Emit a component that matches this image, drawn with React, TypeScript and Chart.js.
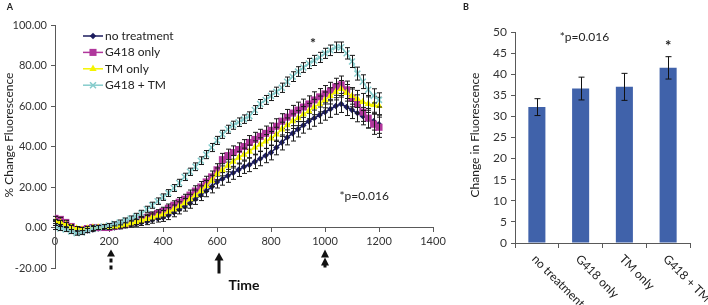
import React, { useEffect, useRef } from "react";
import { Chart, registerables } from "chart.js";

Chart.register(...registerables);

const FONT = "Lato, 'Open Sans', sans-serif";
Chart.defaults.font.family = FONT;

// ---------- Panel A data ----------
const times = [
  0, 20, 40, 60, 80, 100, 120, 140, 160, 180,
  200, 220, 240, 260, 280, 300, 320, 340, 360, 380,
  400, 420, 440, 460, 480, 500, 520, 540, 560, 580,
  600, 620, 640, 660, 680, 700, 720, 740, 760, 780,
  800, 820, 840, 860, 880, 900, 920, 940, 960, 980,
  1000, 1020, 1040, 1060, 1080, 1100, 1120, 1140, 1160, 1180,
  1200,
];

const noTreatment = [
  2, 1.5, 0.5, -1, -2, -2, -1.5, -1, -0.5, 0,
  0, 0, 0.5, 1, 1.5, 2, 2.5, 3, 3.8, 4.5,
  5, 6, 7.5, 9, 10.5, 12, 14, 16, 18, 20,
  22.5, 24, 25.5, 27, 28.5, 30, 31, 32.5, 34, 35.5,
  37, 39.5, 42, 44.5, 46.5, 48.5, 50.5, 52.5, 54, 55.5,
  57, 58.5, 60, 61, 59.5, 58, 56.5, 55, 53.5, 52.5,
  51,
];
const noTreatmentErr = [
  1, 1, 1, 1, 1, 1, 1, 1, 1, 1,
  1, 1, 1.2, 1.2, 1.3, 1.4, 1.5, 1.6, 1.7, 1.8,
  2, 2.1, 2.2, 2.3, 2.4, 2.5, 2.6, 2.7, 2.8, 2.9,
  3, 3.1, 3.2, 3.2, 3.3, 3.3, 3.4, 3.4, 3.5, 3.5,
  3.6, 3.6, 3.7, 3.7, 3.8, 3.8, 3.9, 3.9, 4, 4,
  4, 4.1, 4.1, 4.2, 4.2, 4.2, 4.3, 4.3, 4.4, 4.4,
  4.5,
];

const g418Only = [
  4.5, 4, 2.5, 0.5, -1, -1, -0.5, 0, 0, 0,
  0, 0.5, 1, 1.5, 2.5, 3, 4, 5, 6, 7,
  8, 9.5, 11, 12.5, 14, 16, 18, 20, 22.5, 25,
  28.5, 33.5, 35.5, 37, 38.5, 40, 42, 43.5, 45, 46.5,
  48, 50, 52.5, 54.5, 56.5, 58, 59.5, 61, 63, 64.5,
  66, 67.5, 69.5, 70.5, 68, 64, 61, 57, 54, 51,
  49.5,
];
const g418OnlyErr = [
  1, 1, 1, 1, 1, 1, 1, 1, 1, 1,
  1, 1, 1.2, 1.2, 1.3, 1.4, 1.5, 1.6, 1.7, 1.8,
  2, 2.1, 2.2, 2.3, 2.4, 2.5, 2.6, 2.7, 2.8, 2.9,
  3, 3.1, 3.2, 3.3, 3.3, 3.4, 3.4, 3.5, 3.5, 3.6,
  3.6, 3.7, 3.7, 3.8, 3.8, 3.9, 3.9, 4, 4, 4.1,
  4.1, 4.2, 4.2, 4.3, 4.3, 4.4, 4.5, 4.6, 4.8, 5,
  5,
];

const tmOnly = [
  3, 2.5, 1.5, 0, -0.5, -1, -0.5, 0, 0, 0,
  0, 0.3, 0.8, 1.3, 2, 2.8, 3.5, 4.3, 5, 5.8,
  6.5, 7.8, 9, 10.5, 12, 14, 16, 18, 20.5, 23,
  26.5, 28.5, 30.5, 32.5, 34.5, 36, 37.5, 39.5, 41, 42.5,
  44, 46, 48.5, 50.5, 52.5, 54, 56, 57.5, 59.5, 61,
  63, 65, 67, 68.5, 66.5, 65, 63.5, 62, 61, 60.5,
  60,
];
const tmOnlyErr = [
  1, 1, 1, 1, 1, 1, 1, 1, 1, 1,
  1, 1, 1.1, 1.2, 1.3, 1.4, 1.5, 1.6, 1.7, 1.8,
  1.9, 2, 2.1, 2.2, 2.3, 2.4, 2.5, 2.6, 2.7, 2.8,
  2.9, 3, 3, 3.1, 3.1, 3.2, 3.2, 3.3, 3.3, 3.4,
  3.4, 3.5, 3.5, 3.6, 3.6, 3.7, 3.7, 3.8, 3.8, 3.9,
  3.9, 4, 4, 4.1, 4.1, 4.1, 4.2, 4.2, 4.2, 4.3,
  4.3,
];

const g418PlusTm = [
  0, -0.5, -1, -2, -2.8, -2.5, -1.5, -0.5, 0, 0.5,
  1, 1.8, 2.5, 3.5, 4.5, 5.5, 7, 9, 11, 13,
  15, 17, 19.5, 22, 25, 27.5, 30, 33, 36, 39.5,
  43, 46, 48.5, 50.5, 52, 53.5, 55, 58, 61, 63,
  65, 67, 69, 72, 74.5, 77, 79, 81, 82.5, 84,
  86, 87.5, 89, 89, 86, 82, 76, 72, 68, 65,
  63,
];
const g418PlusTmErr = [
  1, 1, 1, 1, 1, 1, 1, 1, 1, 1,
  1, 1, 1.2, 1.2, 1.2, 1.5, 1.5, 1.5, 1.5, 1.6,
  1.6, 1.7, 1.7, 1.8, 1.8, 1.8, 1.9, 1.9, 2, 2,
  2, 2, 2, 2, 2.1, 2.1, 2.1, 2.2, 2.2, 2.2,
  2.3, 2.3, 2.3, 2.3, 2.4, 2.4, 2.4, 2.5, 2.5, 2.5,
  2.5, 2.6, 2.6, 2.6, 2.8, 3, 3.2, 3.4, 3.5, 3.5,
  3.5,
];

const seriesNames = ["no treatment", "G418 only", "TM only", "G418 + TM"];
const seriesValues = [noTreatment, g418Only, tmOnly, g418PlusTm];
const seriesErrors = [noTreatmentErr, g418OnlyErr, tmOnlyErr, g418PlusTmErr];
const seriesColors = ["#1c1c5e", "#b0379c", "#f4f400", "#86cccc"];
const seriesPointStyles = ["rectRot", "rect", "triangle", "crossRot"];
const seriesPointRadius = [3.2, 5, 4.2, 4.2];

const xMin = 0;
const xMax = 1400;
const xStep = 200;
const yMin = -20;
const yMax = 100;
const yStep = 20;

const arrowTimes = [200, 600, 1000];
const arrowKinds = ["dashed", "solid", "double"];

const pValueText = "*p=0.016";
const starA = { x: 955, y: 91 };
const pTextA = { x: 1145, y: 15.3 };

// ---------- Panel B data ----------
const barCategories = ["no treatment", "G418 only", "TM only", "G418 + TM"];
const barValues = [32.2, 36.6, 37.0, 41.5];
const barErrUp = [2.0, 2.7, 3.2, 2.65];
const barErrDown = [2.0, 2.7, 3.2, 2.65];
const barYMin = 0;
const barYMax = 50;
const barYStep = 5;
const barColor = "#4062aa";

const AXIS = "#595959";
const TEXT = "#222222";

function drawMarker(ctx: CanvasRenderingContext2D, style: string, x: number, y: number, r: number, color: string) {
  ctx.save();
  ctx.fillStyle = color;
  ctx.strokeStyle = color;
  ctx.lineWidth = 1.5;
  ctx.beginPath();
  if (style === "rectRot") {
    ctx.moveTo(x, y - r);
    ctx.lineTo(x + r, y);
    ctx.lineTo(x, y + r);
    ctx.lineTo(x - r, y);
    ctx.closePath();
    ctx.fill();
  } else if (style === "rect") {
    const s = r * Math.SQRT1_2;
    ctx.rect(x - s, y - s, 2 * s, 2 * s);
    ctx.fill();
  } else if (style === "triangle") {
    for (let k = 0; k < 3; k++) {
      const a = (k * 2 * Math.PI) / 3;
      const px = x + Math.sin(a) * r;
      const py = y - Math.cos(a) * r;
      if (k === 0) ctx.moveTo(px, py);
      else ctx.lineTo(px, py);
    }
    ctx.closePath();
    ctx.fill();
  } else {
    const s = r * Math.SQRT1_2;
    ctx.moveTo(x - s, y - s);
    ctx.lineTo(x + s, y + s);
    ctx.moveTo(x + s, y - s);
    ctx.lineTo(x - s, y + s);
    ctx.stroke();
  }
  ctx.restore();
}

function arrowHead(ctx: CanvasRenderingContext2D, x: number, tipY: number, h: number, w: number) {
  ctx.beginPath();
  ctx.moveTo(x, tipY);
  ctx.lineTo(x + w, tipY + h);
  ctx.lineTo(x - w, tipY + h);
  ctx.closePath();
  ctx.fill();
}

const leftPlugin = {
  id: "panelA",
  afterDatasetDraw(chart: any, args: any) {
    const ctx = chart.ctx as CanvasRenderingContext2D;
    const ys = chart.scales.y;
    const errs = seriesErrors[args.index];
    const vals = seriesValues[args.index];
    ctx.save();
    ctx.strokeStyle = "#1a1a1a";
    ctx.lineWidth = 1;
    args.meta.data.forEach((pt: any, j: number) => {
      const x = Math.round(pt.x) + 0.5;
      const yt = ys.getPixelForValue(vals[j] + errs[j]);
      const yb = ys.getPixelForValue(vals[j] - errs[j]);
      ctx.beginPath();
      ctx.moveTo(x, yt);
      ctx.lineTo(x, yb);
      ctx.moveTo(x - 2.5, yt);
      ctx.lineTo(x + 2.5, yt);
      ctx.moveTo(x - 2.5, yb);
      ctx.lineTo(x + 2.5, yb);
      ctx.stroke();
    });
    ctx.restore();
  },
  afterDraw(chart: any) {
    const ctx = chart.ctx as CanvasRenderingContext2D;
    const xs = chart.scales.x;
    const ys = chart.scales.y;
    const area = chart.chartArea;
    ctx.save();
    ctx.fillStyle = TEXT;
    ctx.textBaseline = "middle";

    // panel letter
    ctx.font = `bold 9px ${FONT}`;
    ctx.textAlign = "center";
    ctx.fillText("A", 10, 7);

    // y title
    ctx.save();
    ctx.translate(9, 135);
    ctx.rotate(-Math.PI / 2);
    ctx.font = `12px ${FONT}`;
    ctx.fillText("% Change Fluorescence", 0, 0);
    ctx.restore();

    // legend
    ctx.font = `12px ${FONT}`;
    ctx.textAlign = "left";
    seriesNames.forEach((name, i) => {
      const y = area.top + 11 + i * 16.4;
      const x0 = area.left + 28;
      ctx.save();
      ctx.strokeStyle = seriesColors[i];
      ctx.lineWidth = 1.5;
      ctx.beginPath();
      ctx.moveTo(x0, y);
      ctx.lineTo(x0 + 20, y);
      ctx.stroke();
      ctx.restore();
      drawMarker(ctx, seriesPointStyles[i], x0 + 10, y, seriesPointRadius[i], seriesColors[i]);
      ctx.fillStyle = TEXT;
      ctx.fillText(name, x0 + 22, y);
    });

    // significance
    ctx.textAlign = "center";
    ctx.font = `bold 14px ${FONT}`;
    ctx.fillText("*", xs.getPixelForValue(starA.x), ys.getPixelForValue(starA.y));
    ctx.font = `12px ${FONT}`;
    ctx.fillText(pValueText, xs.getPixelForValue(pTextA.x), ys.getPixelForValue(pTextA.y));

    // arrows under the time axis
    const y0 = ys.getPixelForValue(0);
    ctx.fillStyle = "#111";
    arrowTimes.forEach((t, i) => {
      const x = xs.getPixelForValue(t) + 2;
      const kind = arrowKinds[i];
      if (kind === "dashed") {
        arrowHead(ctx, x, y0 + 22, 7, 4);
        ctx.fillRect(x - 1.5, y0 + 31, 3, 4);
        ctx.fillRect(x - 1.5, y0 + 38, 3, 4);
      } else if (kind === "solid") {
        arrowHead(ctx, x, y0 + 25, 8, 4.5);
        ctx.fillRect(x - 1.5, y0 + 32, 3, 14);
      } else {
        arrowHead(ctx, x - 2, y0 + 22, 8, 4);
        arrowHead(ctx, x - 2, y0 + 30, 8, 4);
        ctx.fillRect(x - 3.5, y0 + 37, 3, 3);
      }
    });
    ctx.restore();
  },
};

const rightPlugin = {
  id: "panelB",
  afterDatasetsDraw(chart: any) {
    const ctx = chart.ctx as CanvasRenderingContext2D;
    const ys = chart.scales.y;
    const meta = chart.getDatasetMeta(0);
    ctx.save();
    ctx.strokeStyle = "#111";
    ctx.lineWidth = 1;
    meta.data.forEach((bar: any, i: number) => {
      const x = Math.round(bar.x) + 0.5;
      const yt = ys.getPixelForValue(barValues[i] + barErrUp[i]);
      const yb = ys.getPixelForValue(barValues[i] - barErrDown[i]);
      ctx.beginPath();
      ctx.moveTo(x, yt);
      ctx.lineTo(x, yb);
      ctx.moveTo(x - 3, yt);
      ctx.lineTo(x + 3, yt);
      ctx.moveTo(x - 3, yb);
      ctx.lineTo(x + 3, yb);
      ctx.stroke();
    });
    ctx.restore();
  },
  afterDraw(chart: any) {
    const ctx = chart.ctx as CanvasRenderingContext2D;
    const xs = chart.scales.x;
    const ys = chart.scales.y;
    const area = chart.chartArea;
    ctx.save();
    ctx.fillStyle = TEXT;
    ctx.textBaseline = "middle";
    ctx.textAlign = "center";
    ctx.font = `bold 9px ${FONT}`;
    ctx.fillText("B", 6, 7);

    ctx.save();
    ctx.translate(15, 135);
    ctx.rotate(-Math.PI / 2);
    ctx.font = `12px ${FONT}`;
    ctx.fillText("Change in Fluorescence", 0, 0);
    ctx.restore();

    // rotated category labels
    ctx.font = `12px ${FONT}`;
    ctx.textAlign = "left";
    barCategories.forEach((c, i) => {
      const x = xs.getPixelForValue(i);
      ctx.save();
      ctx.translate(x - 3, area.bottom + 14);
      ctx.rotate(Math.PI / 4);
      ctx.fillText(c, 0, 0);
      ctx.restore();
    });

    // p-value and star
    ctx.textAlign = "center";
    ctx.font = `12px ${FONT}`;
    ctx.fillText(pValueText, (xs.getPixelForValue(1) + xs.getPixelForValue(2)) / 2 - 18, area.top + 5);
    const last = barValues.length - 1;
    ctx.font = `bold 15px ${FONT}`;
    ctx.fillText("*", xs.getPixelForValue(last), ys.getPixelForValue(barValues[last] + barErrUp[last]) - 11);
    ctx.restore();
  },
};

function leftConfig(): any {
  return {
    type: "line",
    data: {
      datasets: seriesNames.map((name, i) => ({
        label: name,
        data: times.map((t, j) => ({ x: t, y: seriesValues[i][j] })),
        borderColor: seriesColors[i],
        backgroundColor: seriesColors[i],
        borderWidth: 1.5,
        pointStyle: seriesPointStyles[i],
        pointRadius: seriesPointRadius[i],
        pointBorderWidth: i === 3 ? 1.5 : 0,
        pointBorderColor: seriesColors[i],
        pointBackgroundColor: seriesColors[i],
        fill: false,
        tension: 0,
        order: 4 - i,
      })),
    },
    options: {
      animation: false,
      responsive: false,
      layout: { padding: { left: 0, right: 22, top: 25, bottom: 37 } },
      plugins: { legend: { display: false }, tooltip: { enabled: false } },
      scales: {
        x: {
          type: "linear",
          min: xMin,
          max: xMax,
          position: { y: 0 },
          ticks: {
            stepSize: xStep,
            color: "#333",
            font: { size: 11 },
            padding: 3,
            maxRotation: 0,
            callback: (v: any) => String(v),
          },
          grid: { drawOnChartArea: false, drawTicks: true, tickLength: 4, color: AXIS },
          border: { color: AXIS, width: 1 },
          title: {
            display: true,
            text: "Time",
            color: "#111",
            font: { size: 14, weight: "bold" },
            padding: { top: 26, bottom: 0 },
          },
        },
        y: {
          min: yMin,
          max: yMax,
          ticks: {
            stepSize: yStep,
            color: "#333",
            font: { size: 11 },
            padding: 4,
            callback: (v: any) => Number(v).toFixed(2),
          },
          grid: { drawOnChartArea: false, drawTicks: true, tickLength: 4, color: AXIS },
          border: { color: AXIS, width: 1 },
          afterFit: (s: any) => {
            s.width = 55;
          },
        },
      },
    },
    plugins: [leftPlugin],
  };
}

function rightConfig(): any {
  return {
    type: "bar",
    data: {
      labels: barCategories,
      datasets: [
        {
          data: barValues,
          backgroundColor: barColor,
          borderWidth: 0,
          barPercentage: 0.39,
          categoryPercentage: 1,
        },
      ],
    },
    options: {
      animation: false,
      responsive: false,
      layout: { padding: { left: 0, right: 18, top: 32, bottom: 62 } },
      plugins: { legend: { display: false }, tooltip: { enabled: false } },
      scales: {
        x: {
          ticks: { display: false },
          grid: { drawOnChartArea: false, drawTicks: true, tickLength: 5, color: AXIS, offset: true },
          border: { color: AXIS, width: 1 },
          afterFit: (s: any) => {
            s.height = 0;
          },
        },
        y: {
          min: barYMin,
          max: barYMax,
          ticks: { stepSize: barYStep, color: "#333", font: { size: 12 }, padding: 4 },
          grid: { drawOnChartArea: false, drawTicks: true, tickLength: 4, color: AXIS },
          border: { color: AXIS, width: 1 },
          afterFit: (s: any) => {
            s.width = 55;
          },
        },
      },
    },
    plugins: [rightPlugin],
  };
}

export default function App() {
  const leftRef = useRef<HTMLCanvasElement>(null);
  const rightRef = useRef<HTMLCanvasElement>(null);
  useEffect(() => {
    const a = new Chart(leftRef.current as HTMLCanvasElement, leftConfig());
    const b = new Chart(rightRef.current as HTMLCanvasElement, rightConfig());
    return () => {
      a.destroy();
      b.destroy();
    };
  }, []);
  return (
    <div
      style={{
        position: "fixed",
        left: 0,
        top: 0,
        width: 708,
        height: 305,
        background: "#fff",
        overflow: "hidden",
      }}
    >
      <canvas
        ref={leftRef}
        width={455}
        height={305}
        style={{ position: "absolute", left: 0, top: 0, width: 455, height: 305 }}
      />
      <canvas
        ref={rightRef}
        width={248}
        height={305}
        style={{ position: "absolute", left: 460, top: 0, width: 248, height: 305 }}
      />
    </div>
  );
}
